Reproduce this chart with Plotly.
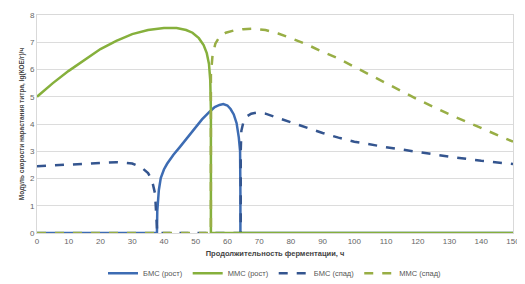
import plotly.graph_objects as go

# БМС (рост) — solid blue
bms_grow_x = [0, 37.8, 37.9, 38.4, 39, 40, 41, 42, 43, 45, 48, 50, 52, 54.4, 56, 57.5, 58.7, 60, 61, 62, 62.9, 63.6, 64, 64.1, 64.1, 150]
bms_grow_y = [0, 0, 0.8, 1.58, 2.02, 2.33, 2.54, 2.72, 2.87, 3.15, 3.6, 3.88, 4.17, 4.45, 4.62, 4.7, 4.73, 4.68, 4.55, 4.35, 4.03, 3.5, 3.0, 1.5, 0, 0]

# ММС (рост) — solid green
mms_grow_x = [0, 5, 10, 15, 20, 25, 30, 35, 40, 44, 47, 49, 51, 52.5, 53.5, 54.2, 54.6, 54.8, 54.8, 150]
mms_grow_y = [5.0, 5.5, 5.95, 6.35, 6.75, 7.05, 7.3, 7.45, 7.52, 7.52, 7.45, 7.35, 7.15, 6.9, 6.6, 6.2, 5.6, 4.5, 0, 0]

# БМС (спад) — dashed blue
bms_dec_x = [0, 5, 10, 15, 20, 25, 30, 33, 35, 36.2, 37.2, 37.6, 37.8, 37.8, 64.2, 64.2, 64.4, 65, 66, 67.5, 69.5, 72, 76, 80, 85, 90, 95, 100, 110, 120, 130, 140, 150]
bms_dec_y = [2.45, 2.48, 2.51, 2.55, 2.58, 2.6, 2.55, 2.4, 2.2, 1.95, 1.45, 0.8, 0.2, 0, 0, 3.0, 3.75, 4.05, 4.27, 4.38, 4.42, 4.38, 4.22, 4.05, 3.85, 3.67, 3.5, 3.35, 3.15, 2.97, 2.8, 2.65, 2.53]

# ММС (спад) — dashed green
mms_dec_x = [0, 54.8, 54.8, 55.3, 56.2, 57.5, 59.5, 62, 65, 68, 72, 76, 80, 85, 90, 95, 100, 110, 120, 130, 140, 150]
mms_dec_y = [0, 0, 5.8, 6.5, 6.95, 7.2, 7.35, 7.43, 7.48, 7.5, 7.45, 7.32, 7.15, 6.92, 6.65, 6.4, 6.1, 5.5, 4.9, 4.35, 3.85, 3.35]

x_ticks = list(range(0, 151, 10))
y_ticks = list(range(0, 9, 1))

BLUE = "#3D6CB3"
BLUE_D = "#34558F"
GREEN = "#86B03C"
GREEN_D = "#98AE45"

fig = go.Figure()
fig.add_trace(go.Scatter(x=bms_grow_x, y=bms_grow_y, mode="lines", name="БМС (рост)",
                         line=dict(color=BLUE, width=2.5)))
fig.add_trace(go.Scatter(x=bms_dec_x, y=bms_dec_y, mode="lines", name="БМС (спад)",
                         line=dict(color=BLUE_D, width=2.5, dash="dash")))
fig.add_trace(go.Scatter(x=mms_grow_x, y=mms_grow_y, mode="lines", name="ММС (рост)",
                         line=dict(color=GREEN, width=2.5)))
fig.add_trace(go.Scatter(x=mms_dec_x, y=mms_dec_y, mode="lines", name="ММС (спад)",
                         line=dict(color=GREEN_D, width=2.5, dash="dash")))

fig.update_layout(
    width=517, height=276,
    margin=dict(l=29, r=12, t=7, b=51, autoexpand=False),
    paper_bgcolor="white", plot_bgcolor="white",
    font=dict(family="Liberation Sans, Arial, sans-serif", size=8, color="#666666"),
    showlegend=True,
    legend=dict(orientation="h", x=0.5, xanchor="center", y=-0.185, yanchor="middle",
                font=dict(size=7.5, color="#555555"), itemwidth=30, tracegroupgap=0,
                traceorder="normal"),
    xaxis=dict(range=[0, 150], tickvals=x_ticks, showgrid=False, zeroline=False,
               showline=True, linecolor="#D9D9D9", mirror=True, ticks="",
               automargin=False,
               title=dict(text="<b>Продолжительность ферментации, ч</b>",
                          font=dict(size=7.5, color="#444444"), standoff=6),
               tickfont=dict(size=8, color="#666666")),
    yaxis=dict(range=[0, 8], tickvals=y_ticks, showgrid=True, gridcolor="#DCDCDC",
               gridwidth=1, zeroline=False, showline=True, linecolor="#D9D9D9",
               mirror=True, ticks="", automargin=False,
               title=dict(text="<b>Модуль скорости нарастания титра, lg(КОЕ/г)/ч</b>",
                          font=dict(size=6.5, color="#444444"), standoff=4),
               tickfont=dict(size=8, color="#666666")),
)

# keep legend order as in the reference: БМС (рост), ММС (рост), БМС (спад), ММС (спад)
order = {"БМС (рост)": 1, "ММС (рост)": 2, "БМС (спад)": 3, "ММС (спад)": 4}
for tr in fig.data:
    tr.legendrank = order[tr.name]

fig.write_html("out.html")
